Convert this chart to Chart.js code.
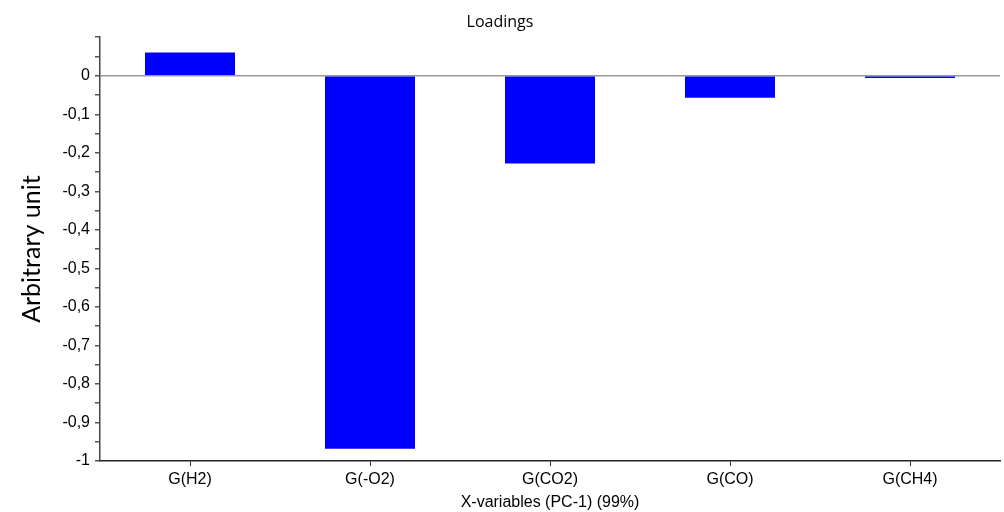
<!DOCTYPE html>
<html>
<head>
<meta charset="utf-8">
<script src="https://cdn.jsdelivr.net/npm/chart.js@4"></script>
<style>
  html, body { margin: 0; padding: 0; background: #fff; }
  #wrap { width: 1004px; height: 512px; }
</style>
</head>
<body>
<div id="wrap"><canvas id="loadingsChart" width="1004" height="512"></canvas></div>
<script>
// Loadings for PC-1
const categories = ['G(H2)', 'G(-O2)', 'G(CO2)', 'G(CO)', 'G(CH4)'];
const loadings = [0.06, -0.968, -0.228, -0.057, -0.006];
const yMin = -1;
const yMax = 0.1;
const yStep = 0.05;

const numFont = "'Liberation Sans', Arial, sans-serif";

function commaLabel(v) {
    const r = Math.round(v * 100);
    // only label every 0.1, skip the top end
    if (r % 10 !== 0 || r > 0) return '';
    return (r / 100).toString().replace('.', ',');
}

const ctx = document.getElementById('loadingsChart').getContext('2d');
const chart = new Chart(ctx, {
    type: 'bar',
    data: {
        labels: categories,
        datasets: [{
            data: loadings,
            backgroundColor: '#0000ff',
            borderWidth: 0,
            barPercentage: 0.5,
            categoryPercentage: 1.0
        }]
    },
    options: {
        responsive: false,
        animation: false,
        layout: { padding: { left: 0, right: 4, top: 0, bottom: 0 } },
        plugins: {
            legend: { display: false },
            tooltip: { enabled: false },
            title: {
                display: true,
                text: 'Loadings',
                color: '#000',
                font: { family: "'Open Sans', sans-serif", size: 16, weight: '500' },
                padding: { top: 13, bottom: 5 }
            }
        },
        scales: {
            x: {
                offset: true,
                grid: {
                    display: true,
                    drawOnChartArea: false,
                    offset: false,
                    tickLength: 5,
                    tickColor: '#333'
                },
                border: { color: '#222', width: 1.5 },
                ticks: {
                    color: '#000',
                    padding: 4,
                    font: { family: numFont, size: 16 }
                },
                title: {
                    display: true,
                    text: 'X-variables (PC-1) (99%)',
                    color: '#000',
                    font: { family: numFont, size: 16 },
                    padding: { top: 2, bottom: 0 }
                },
                afterFit: function(scale) { scale.height = 51; }
            },
            y: {
                min: yMin,
                max: yMax,
                grid: {
                    color: function(c) {
                        return c.tick && Math.abs(c.tick.value) < 1e-9 ? '#999' : 'rgba(0,0,0,0)';
                    },
                    lineWidth: 1.5,
                    tickLength: 5,
                    tickColor: '#555'
                },
                border: { color: '#444', width: 1.5 },
                ticks: {
                    stepSize: yStep,
                    autoSkip: false,
                    color: '#000',
                    padding: 5,
                    font: { family: numFont, size: 16 },
                    callback: function(v) { return commaLabel(v); }
                },
                title: {
                    display: true,
                    text: 'Arbitrary unit',
                    color: '#000',
                    font: { family: "Lato, 'Open Sans', sans-serif", size: 25 },
                    padding: { top: 17, bottom: 0 }
                },
                afterFit: function(scale) { scale.width = 100; }
            }
        }
    }
});
</script>
</body>
</html>
